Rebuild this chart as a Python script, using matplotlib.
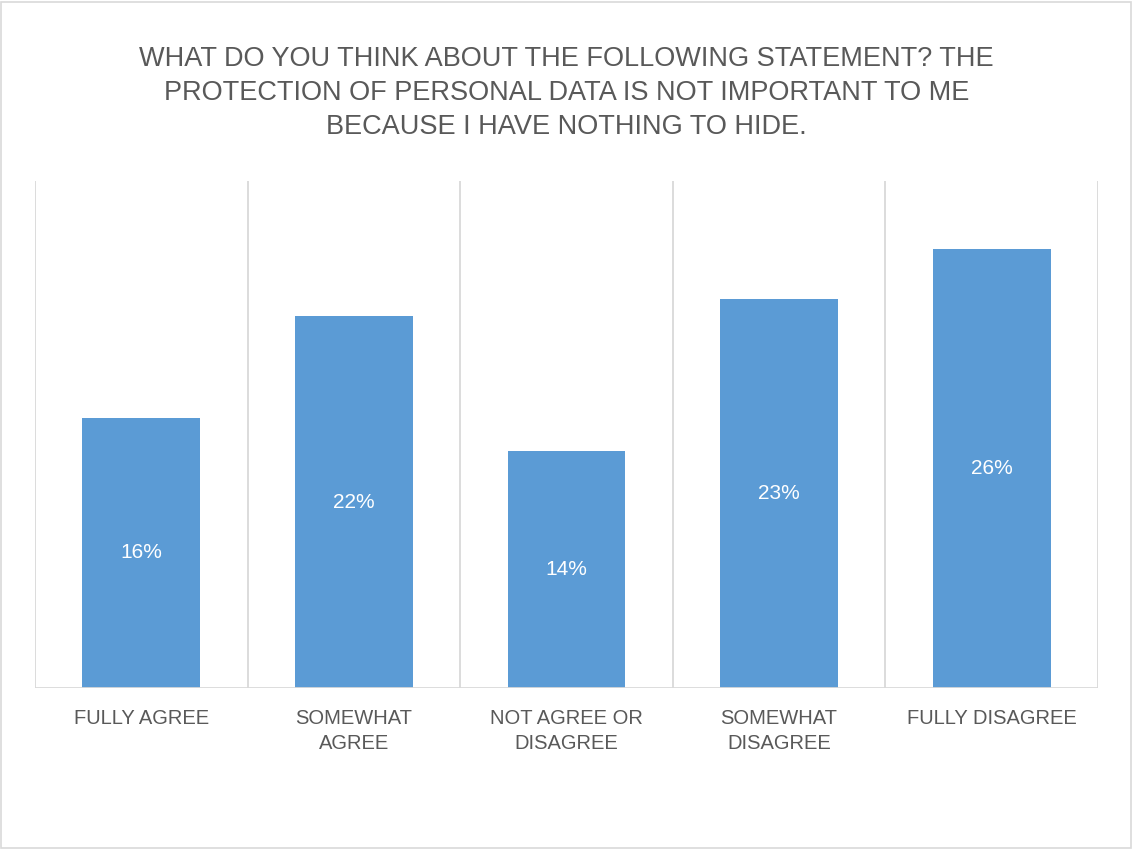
import matplotlib
matplotlib.use("Agg")
import matplotlib.pyplot as plt
import numpy as np

# Data
categories = ["FULLY AGREE", "SOMEWHAT\nAGREE", "NOT AGREE OR\nDISAGREE",
              "SOMEWHAT\nDISAGREE", "FULLY DISAGREE"]
values = [16, 22, 14, 23, 26]
title = ("WHAT DO YOU THINK ABOUT THE FOLLOWING STATEMENT? THE\n"
         "PROTECTION OF PERSONAL DATA IS NOT IMPORTANT TO ME\n"
         "BECAUSE I HAVE NOTHING TO HIDE.")

bar_color = "#5B9BD5"
text_color = "#595959"
grid_color = "#D9D9D9"

plt.rcParams['font.family'] = ['Liberation Sans', 'DejaVu Sans']

fig = plt.figure(figsize=(11.33, 8.49), dpi=100)
ax = fig.add_axes([35/1133, 1-688/849, (1098-35)/1133, (688-181)/849])

x = np.arange(len(categories))
bars = ax.bar(x, values, width=0.555, color=bar_color, zorder=3)

ax.set_xlim(-0.5, len(categories)-0.5)
ax.set_ylim(0, 30)

# vertical separators between categories
for b in np.arange(-0.5, len(categories), 1.0):
    ax.axvline(b, color=grid_color, lw=1.3, zorder=1)

for s in ax.spines.values():
    s.set_visible(False)
ax.axhline(0, color=grid_color, lw=2, zorder=4)

ax.set_yticks([])
ax.set_xticks(x)
ax.set_xticklabels(categories, fontsize=14.5, color=text_color,
                   linespacing=1.4)
ax.tick_params(axis='x', length=0, pad=15)

# data labels centred in bars
for xi, v in zip(x, values):
    ax.text(xi, v/2, f"{v}%", ha='center', va='center',
            color='white', fontsize=15)

fig.text(0.5, 1-93/849, title, ha='center', va='center', fontsize=19.5,
         color=text_color, linespacing=1.38)

# light border round the figure
fig.patches.append(plt.Rectangle((0.001, 0.001), 0.997, 0.997,
                   transform=fig.transFigure, fill=False,
                   edgecolor=grid_color, lw=1.2))

fig.savefig("out.png", dpi=100, facecolor='white')
